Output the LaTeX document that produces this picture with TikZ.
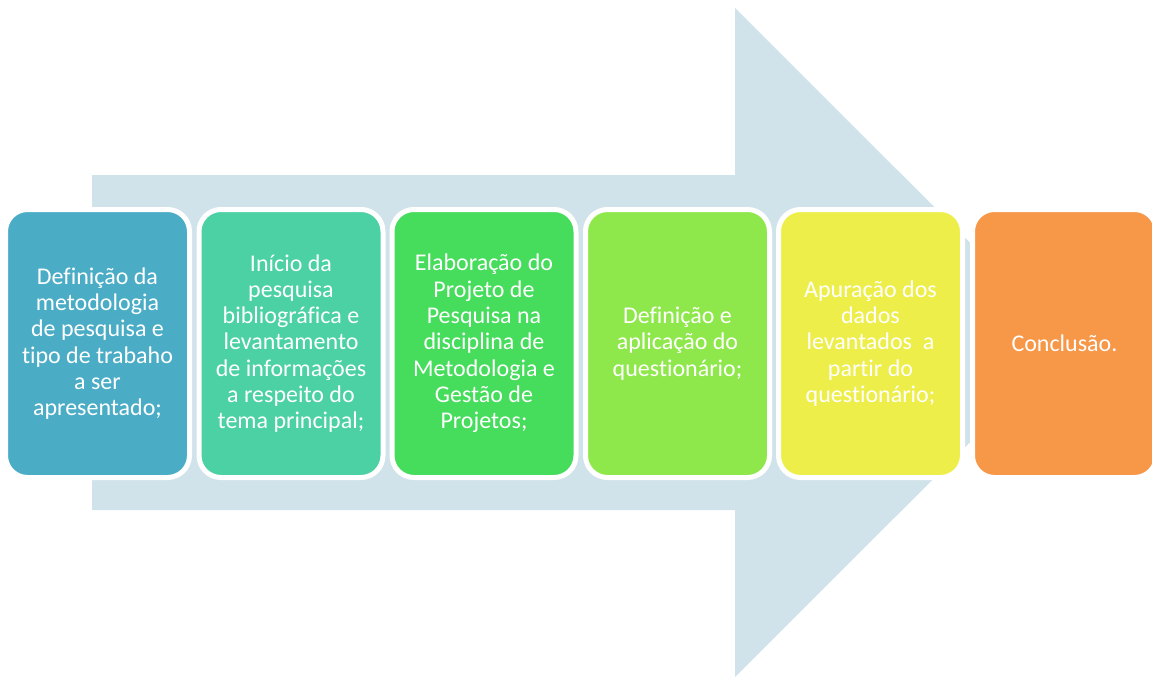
\documentclass[tikz,border=0pt]{standalone}
\usepackage{fontspec}
\setmainfont[Ligatures=NoCommon]{Carlito}
\usepackage{tikz}

\definecolor{seta}{HTML}{D1E3EA}
\definecolor{passoa}{HTML}{4BACC6}
\definecolor{passob}{HTML}{4BD1A4}
\definecolor{passoc}{HTML}{46DC5C}
\definecolor{passod}{HTML}{8FE84B}
\definecolor{passoe}{HTML}{EEEE4A}
\definecolor{passof}{HTML}{F79748}

\begin{document}
\begin{tikzpicture}[x=1pt,y=-1pt,
    passo/.style={draw=white,line width=5pt,rounded corners=22pt,
      minimum width=184pt,minimum height=268pt,inner sep=0pt,
      text=white,align=center,font=\fontsize{24}{26.3}\selectfont}]
    \clip (0,0) rectangle (1152,677);
    % seta grande ao fundo
    \fill[seta] (92,175)--(735,175)--(735,8)--(1070,342.5)--(735,677)--(735,510)--(92,510)--cycle;
    % etapas
    \node[passo,fill=passoa] (pa) at (97.5,343.5) {Defini\c{c}\~ao da\\metodologia\\de pesquisa e\\tipo de trabaho\\a ser\\apresentado;};
    \node[passo,fill=passob] (pb) at (291,343.5) {In\'icio da\\pesquisa\\bibliogr\'afica e\\levantamento\\de informa\c{c}\~oes\\a respeito do\\tema principal;};
    \node[passo,fill=passoc] (pc) at (484,343.5) {Elabora\c{c}\~ao do\\Projeto de\\Pesquisa na\\disciplina de\\Metodologia e\\Gest\~ao de\\Projetos;};
    \node[passo,fill=passod] (pd) at (677.5,343.5) {Defini\c{c}\~ao e\\aplica\c{c}\~ao do\\question\'ario;};
    \node[passo,fill=passoe] (pe) at (870.5,343.5) {Apura\c{c}\~ao dos\\dados\\levantados~ a\\partir do\\question\'ario;};
    \node[passo,fill=passof] (pf) at (1064.5,343.5) {Conclus\~ao.};
\end{tikzpicture}
\end{document}
